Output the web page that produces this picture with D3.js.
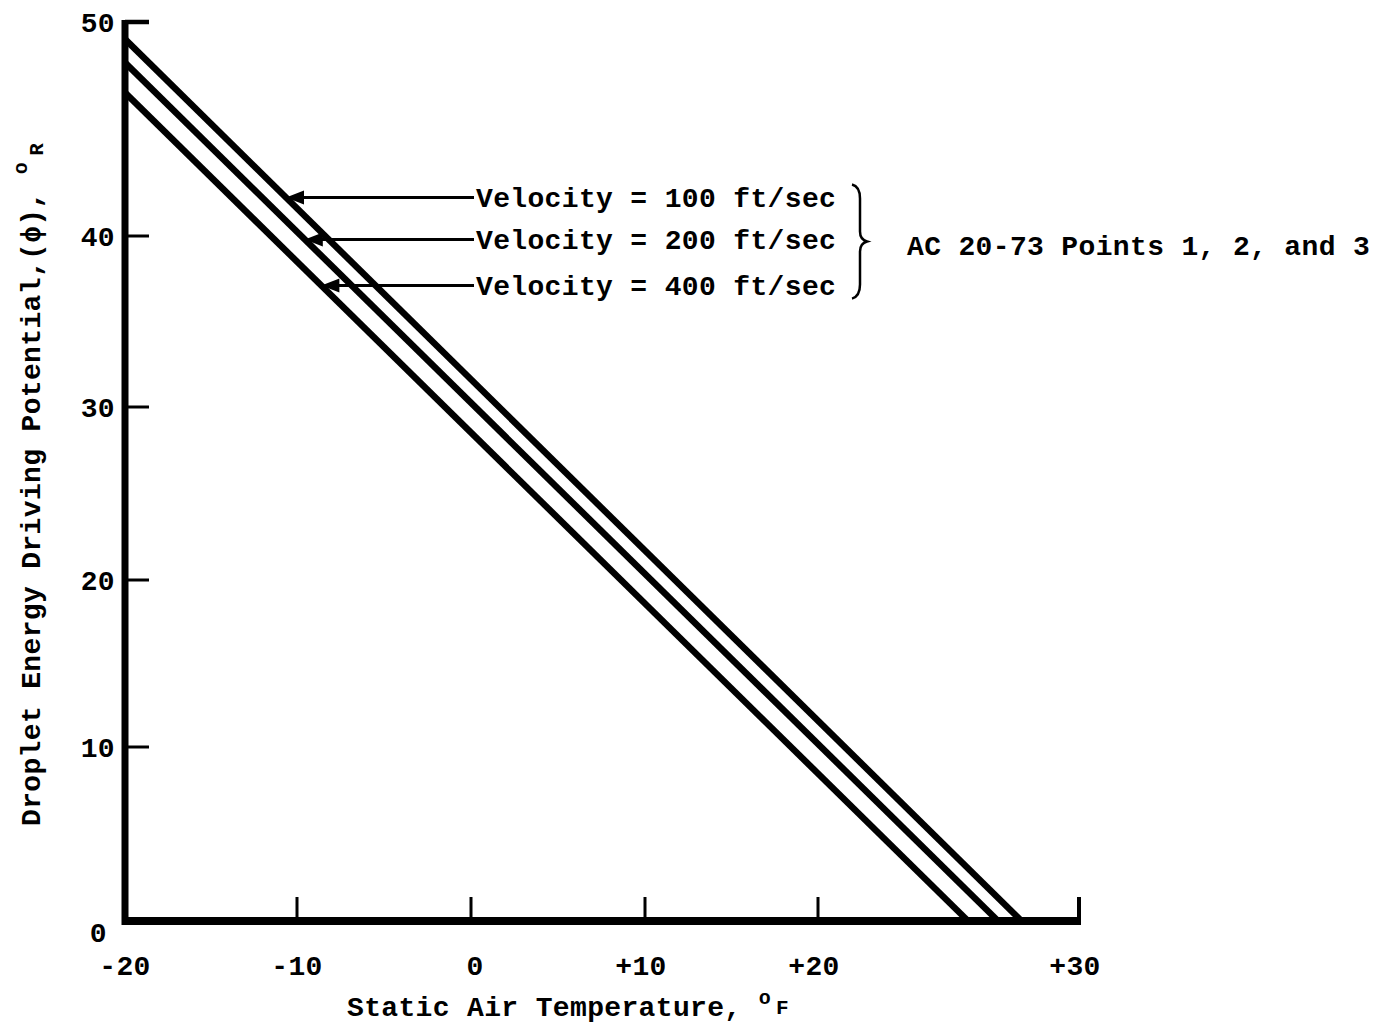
<!DOCTYPE html>
<meta charset="utf-8">
<head>
  <title>Droplet energy driving potential</title>
</head>

<style>
body {
  margin: 0;
  background: #fff;
}

svg text {
  font-family: "Liberation Mono", "DejaVu Sans Mono", monospace;
  font-weight: bold;
  font-size: 28px;
  letter-spacing: 0.35px;
  fill: #000;
}

.series path {
  fill: none;
  stroke: #000;
  stroke-width: 6.5;
}

.axis line, .axis path {
  stroke: #000;
  fill: none;
}

.legend line {
  stroke: #000;
  stroke-width: 3;
}

.legend .head {
  fill: #000;
}

.brace {
  fill: none;
  stroke: #000;
  stroke-width: 2.5;
}
</style>

<body>
  <svg width="1377" height="1024"></svg>

  <script src="https://cdnjs.cloudflare.com/ajax/libs/d3/7.8.5/d3.min.js"></script>

  <script>
// series
var velocities = [100, 200, 400];
var phiAtMinus20 = [49.2, 48.1, 46.7];   // value where each line meets the -20 F axis
var zeroCrossing = [27.8, 26.9, 25.75];  // temperature where each line reaches 0
var legendAt = [41.8, 39.8, 37.1];       // phi level of each leader arrow

var xTicks = [-20, -10, 0, 10, 20, 30];
var xTickLabels = ['-20', '-10', '0', '+10', '+20', '+30'];
var yTicks = [0, 10, 20, 30, 40, 50];
var yTickLabels = ['0', '10', '20', '30', '40', '50'];

var groupNote = 'AC 20-73 Points 1, 2, and 3';

var svg = d3.select('svg');

// the scan is not evenly spaced, so both scales are piecewise
var x = d3.scaleLinear()
  .domain(xTicks)
  .range([125, 297, 471, 645, 818, 1079]);

var y = d3.scaleLinear()
  .domain(yTicks)
  .range([921, 747, 580, 407, 236, 22]);

var series = velocities.map(function(v, i) {
  return {
    velocity: v,
    points: [[-20, phiAtMinus20[i]], [zeroCrossing[i], 0]],
    label: legendAt[i]
  };
});

var line = d3.line()
  .x(function(d) { return x(d[0]); })
  .y(function(d) { return y(d[1]); });

// data lines
svg.append('g')
  .attr('class', 'series')
  .selectAll('path')
  .data(series)
  .enter()
  .append('path')
  .attr('d', function(d) { return line(d.points); });

// y axis
var yAxis = svg.append('g').attr('class', 'axis');

yAxis.append('line')
  .attr('x1', x(-20)).attr('x2', x(-20))
  .attr('y1', y(50) - 2).attr('y2', y(0) + 4)
  .style('stroke-width', 7);

yAxis.selectAll('.ytick')
  .data(yTicks.slice(1))
  .enter()
  .append('line')
  .attr('class', 'ytick')
  .attr('x1', x(-20))
  .attr('x2', x(-20) + 24)
  .attr('y1', function(d) { return y(d); })
  .attr('y2', function(d) { return y(d); })
  .style('stroke-width', function(d) { return d === 50 ? 4.5 : 3; });

yAxis.selectAll('.ylabel')
  .data(yTicks)
  .enter()
  .append('text')
  .attr('class', 'ylabel')
  .attr('text-anchor', 'end')
  .attr('x', function(d) { return d === 0 ? 107 : 115; })
  .attr('y', function(d) { return y(d) + (d === 0 ? 11 : 0); })
  .attr('dy', '0.35em')
  .text(function(d, i) { return yTickLabels[i]; });

// x axis
var xAxis = svg.append('g').attr('class', 'axis');

xAxis.append('line')
  .attr('x1', x(-20) - 3).attr('x2', x(30) + 2)
  .attr('y1', y(0)).attr('y2', y(0))
  .style('stroke-width', 8);

xAxis.selectAll('.xtick')
  .data(xTicks.slice(1))
  .enter()
  .append('line')
  .attr('class', 'xtick')
  .attr('x1', function(d) { return x(d); })
  .attr('x2', function(d) { return x(d); })
  .attr('y1', y(0))
  .attr('y2', y(0) - 24)
  .style('stroke-width', function(d) { return d === 30 ? 4 : 3; });

xAxis.selectAll('.xlabel')
  .data(xTicks)
  .enter()
  .append('text')
  .attr('class', 'xlabel')
  .attr('text-anchor', 'middle')
  .attr('x', function(d) { return x(d) + (d > 0 ? -4 : d === 0 ? 4 : 0); })
  .attr('y', 975)
  .text(function(d, i) { return xTickLabels[i]; });

// axis titles
var xTitle = svg.append('text')
  .attr('x', 347)
  .attr('y', 1016);
xTitle.append('tspan').text('Static Air Temperature, ');
xTitle.append('tspan').attr('dy', -12).style('font-size', '20px').text('o');
xTitle.append('tspan').attr('dy', 10).attr('dx', 5).style('font-size', '21px').text('F');

var yTitle = svg.append('text')
  .attr('transform', 'translate(40,826) rotate(-90)');
yTitle.append('tspan').text('Droplet Energy Driving Potential,(\u03d5), ');
yTitle.append('tspan').attr('dy', -13).style('font-size', '20px').text('o');
yTitle.append('tspan').attr('dy', 16).attr('dx', 6).style('font-size', '21px').text('R');

// legend: leader arrows onto each line
var legendX = 474;
var legend = svg.append('g').attr('class', 'legend');

var items = legend.selectAll('g')
  .data(series)
  .enter()
  .append('g');

items.each(function(d) {
  var p0 = [x(d.points[0][0]), y(d.points[0][1])];
  var p1 = [x(d.points[1][0]), y(d.points[1][1])];
  var py = y(d.label);
  var t = (py - p0[1]) / (p1[1] - p0[1]);
  d.tip = [p0[0] + t * (p1[0] - p0[0]), py];
});

items.append('line')
  .attr('x1', function(d) { return d.tip[0] + 8; })
  .attr('x2', legendX)
  .attr('y1', function(d) { return d.tip[1]; })
  .attr('y2', function(d) { return d.tip[1]; });

items.append('path')
  .attr('class', 'head')
  .attr('d', function(d) {
    var tx = d.tip[0], ty = d.tip[1];
    return 'M' + tx + ',' + ty + 'L' + (tx + 18) + ',' + (ty - 7) +
      'L' + (tx + 18) + ',' + (ty + 7) + 'Z';
  });

items.append('text')
  .attr('x', legendX + 2)
  .attr('y', function(d) { return d.tip[1]; })
  .attr('dy', '0.35em')
  .text(function(d) { return 'Velocity = ' + d.velocity + ' ft/sec'; });

// brace grouping the three velocities
var braceTop = y(legendAt[0]) - 13,
    braceBot = y(legendAt[2]) + 13,
    braceMid = (braceTop + braceBot) / 2;
var bx = 852;
legend.append('path')
  .attr('class', 'brace')
  .attr('d',
    'M' + bx + ',' + braceTop +
    'Q' + (bx + 8) + ',' + (braceTop + 2) + ' ' + (bx + 8) + ',' + (braceTop + 14) +
    'L' + (bx + 8) + ',' + (braceMid - 10) +
    'Q' + (bx + 8) + ',' + (braceMid - 2) + ' ' + (bx + 15) + ',' + braceMid +
    'Q' + (bx + 8) + ',' + (braceMid + 2) + ' ' + (bx + 8) + ',' + (braceMid + 10) +
    'L' + (bx + 8) + ',' + (braceBot - 14) +
    'Q' + (bx + 8) + ',' + (braceBot - 2) + ' ' + bx + ',' + braceBot);

legend.append('text')
  .attr('x', 907)
  .attr('y', braceMid + 4)
  .attr('dy', '0.35em')
  .text(groupNote);
  </script>
</body>
</html>
